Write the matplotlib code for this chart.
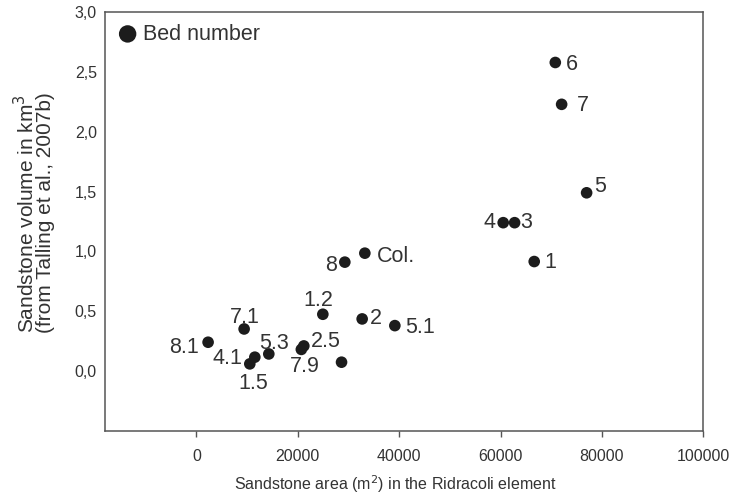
import matplotlib
matplotlib.use('Agg')
import matplotlib.pyplot as plt
from matplotlib.ticker import FuncFormatter

plt.rcParams['font.family'] = ['Liberation Sans', 'DejaVu Sans']

# bed data: sandstone area (m2) and volume (km3)
beds = ['6', '7', '5', '4', '3', '1', 'Col.', '8', '1.2', '2', '5.1',
        '7.1', '8.1', '4.1', '1.5', '5.3', '2.5', '7.9', '']
area = [70800, 72050, 76980, 60520, 62770, 66640, 33220, 29270, 24930, 32690, 39140,
        9400, 2290, 11510, 10520, 14270, 21180, 20690, 28620]
volume = [2.58, 2.23, 1.49, 1.24, 1.24, 0.915, 0.985, 0.91, 0.474, 0.435, 0.379,
          0.351, 0.240, 0.115, 0.059, 0.142, 0.209, 0.18, 0.073]

# label placement (pixels from dot to text centre, up is positive) and alignment
offsets = [(11, 0), (15.5, 1), (8, 8.3), (-8, 2.3), (6, 2.6), (10, 1), (12, -0.7),
           (-8, -1), (-5, 16), (8, 3), (10, 0.7), (1, 14), (-9, -2.7), (-12, 0.6),
           (3, -17), (5, 12.3), (7, 7), (3, -14.5), (0, 0)]
aligns = ['left', 'left', 'left', 'right', 'left', 'left', 'left', 'right', 'center',
          'left', 'left', 'center', 'right', 'right', 'center', 'center', 'left',
          'center', 'left']

dot_col = '#1c1c1c'
txt_col = '#333333'

fig = plt.figure(figsize=(7.3, 4.97), dpi=100)
ax = fig.add_axes([0.1442, 0.1334, 0.8192, 0.8419])

ax.scatter(area, volume, s=70, color=dot_col, edgecolors='none', label='Bed number', zorder=3)

for b, x, y, (dx, dy), ha in zip(beds, area, volume, offsets, aligns):
    if b == '':
        continue
    ax.annotate(b, (x, y), xytext=(dx, dy - 7.7), textcoords='offset pixels',
                ha=ha, va='baseline', fontsize=15.5, color=txt_col)

ax.set_xlim(-18000, 100000)
ax.set_ylim(-0.5, 3.0)
ax.set_xticks([0, 20000, 40000, 60000, 80000, 100000])
ax.set_yticks([0, 0.5, 1.0, 1.5, 2.0, 2.5, 3.0])
ax.yaxis.set_major_formatter(FuncFormatter(lambda v, p: f'{v:.1f}'.replace('.', ',')))
ax.tick_params(axis='x', direction='out', length=4, width=1, color='#555555',
               labelsize=11.5, labelcolor=txt_col, pad=9)
ax.tick_params(axis='y', length=0, labelsize=11.5, labelcolor=txt_col, pad=6)
for sp in ax.spines.values():
    sp.set_color('#555555')
    sp.set_linewidth(1.1)

ax.set_xlabel('Sandstone area (m$^2$) in the Ridracoli element', fontsize=11.5,
              color=txt_col, labelpad=7)
ax.xaxis.label.set_x(0.4853)
ax.set_ylabel('Sandstone volume in km$^3$\n(from Talling et al., 2007b)', fontsize=15,
              color=txt_col, labelpad=14, linespacing=0.85)
ax.yaxis.label.set_y(0.52)

ax.legend(loc='upper left', bbox_to_anchor=(0.023, 0.973), frameon=False, fontsize=15.5,
          markerscale=1.5, handlelength=0.8, handletextpad=0.3, borderpad=0,
          borderaxespad=0, labelcolor=txt_col)

fig.savefig('out.png', dpi=100)
